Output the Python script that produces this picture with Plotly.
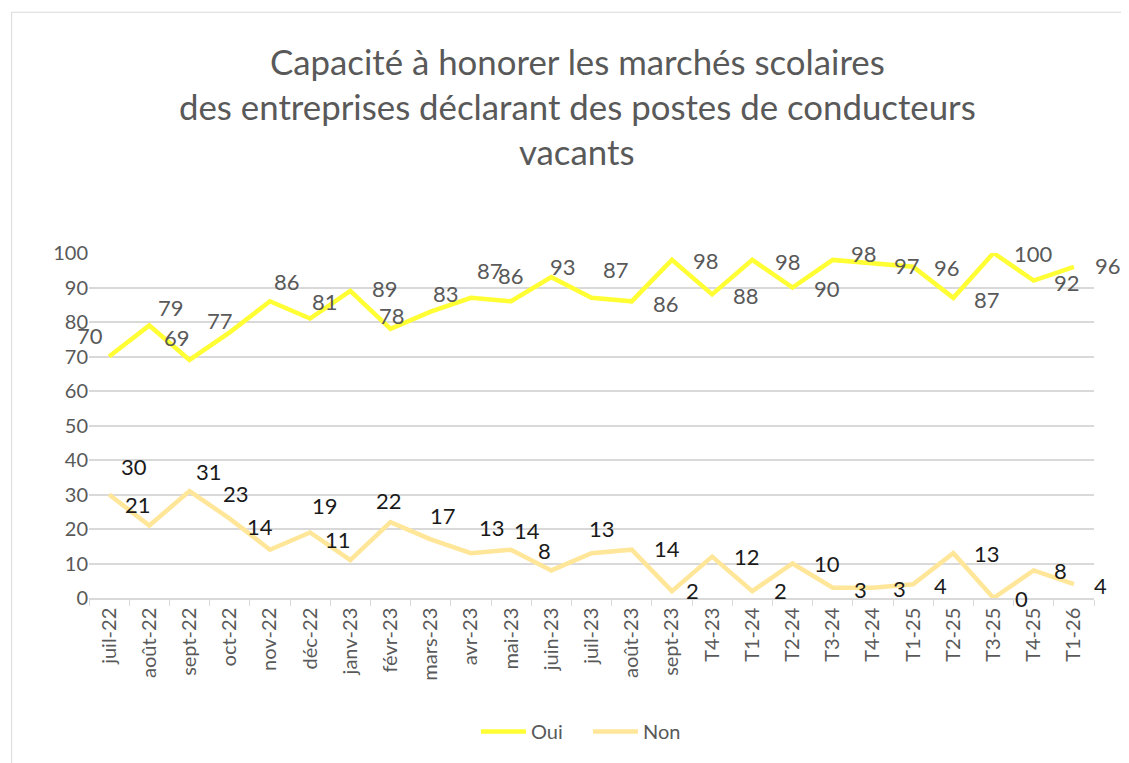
import plotly.graph_objects as go

categories = ["juil-22", "août-22", "sept-22", "oct-22", "nov-22", "déc-22", "janv-23",
              "févr-23", "mars-23", "avr-23", "mai-23", "juin-23", "juil-23", "août-23",
              "sept-23", "T4-23", "T1-24", "T2-24", "T3-24", "T4-24", "T1-25", "T2-25",
              "T3-25", "T4-25", "T1-26"]
oui = [70, 79, 69, 77, 86, 81, 89, 78, 83, 87, 86, 93, 87, 86, 98, 88, 98, 90, 98, 97, 96, 87, 100, 92, 96]
non = [30, 21, 31, 23, 14, 19, 11, 22, 17, 13, 14, 8, 13, 14, 2, 12, 2, 10, 3, 3, 4, 13, 0, 8, 4]
title_lines = ["Capacité à honorer les marchés scolaires",
               "des entreprises déclarant des postes de conducteurs",
               "vacants"]

# label offsets in pixels (dx right, dy down) -- styling only
oui_dx = [-19, 22, -13, -10, 17, 15, 35, 1, 15, 19, 0, 12, 24, 34, 34, 34, 36, 34, 31, 34, 34, 34, 40, 33, 34]
oui_dy = [-20, -17, -21, -11, -19, -16, -1, -12, -17, -26, -25, -10, -27, 3, 2, 2, 3, 2, -5, 3, 2, 3, 1, 3, 0]
non_dx = [25, -11, 19, 6, -10, 15, -12, -2, 12, 21, 16, -7, 10, 35, 21, 35, 28, 34, 28, 27, 27, 34, 28, 27, 27]
non_dy = [-27, -20, -19, -24, -22, -26, -20, -21, -23, -25, -18, -19, -24, 0, 0, 1, 0, 1, 3, 2, 2, 1, 1, 1, 2]

FONT = "Lato"
OFF = 8  # page body margin
W, H = 1129 - OFF, 763 - OFF
# plot area in reference pixels: x 89.3..1093.6, y 252.7..600.5
L = 89.3 - OFF
T = 252.7 - OFF
R = W - (1093.6 - OFF)
B = H - (600.5 - OFF)

fig = go.Figure()
fig.add_trace(go.Scatter(x=categories, y=oui, mode="lines", name="Oui",
                         line=dict(color="#FFFF33", width=4.5)))
fig.add_trace(go.Scatter(x=categories, y=non, mode="lines", name="Non",
                         line=dict(color="#FFE699", width=4.5)))

ann = []
for c, v, dx, dy in zip(categories, oui, oui_dx, oui_dy):
    ann.append(dict(x=c, y=v, xref="x", yref="y", text=str(v), showarrow=False,
                    xanchor="center", yanchor="middle", xshift=dx, yshift=-dy + 1,
                    font=dict(family=FONT, size=22, color="#595959")))
for c, v, dx, dy in zip(categories, non, non_dx, non_dy):
    ann.append(dict(x=c, y=v, xref="x", yref="y", text=str(v), showarrow=False,
                    xanchor="center", yanchor="middle", xshift=dx, yshift=-dy + 1,
                    font=dict(family=FONT, size=22, color="#1a1a1a")))

ph = H - T - B
pw = W - L - R
def py(p):
    return (H - B - (p - OFF)) / ph
def px(p):
    return ((p - OFF) - L) / pw

for i, line in enumerate(title_lines):
    ann.append(dict(x=px(577), y=py(60 + 45 * i), xref="paper", yref="paper", text=line,
                    showarrow=False, xanchor="center", yanchor="middle",
                    font=dict(family=FONT, size=34.8, color="#595959")))

fig.update_layout(
    width=W, height=H,
    margin=dict(l=L, r=R, t=T, b=B, pad=0),
    paper_bgcolor="white", plot_bgcolor="white",
    font=dict(family=FONT, color="#595959"),
    annotations=ann,
    showlegend=True,
    legend=dict(orientation="h", x=px(476), y=py(735), xanchor="left", yanchor="middle",
                font=dict(family=FONT, size=20, color="#595959"), itemwidth=45,
                entrywidth=52, entrywidthmode="pixels"),
    shapes=[dict(type="rect", xref="paper", yref="paper",
                 x0=px(12), x1=px(1145), y0=py(780), y1=py(10),
                 line=dict(color="#D9D9D9", width=1), fillcolor="rgba(0,0,0,0)", layer="below")],
)
fig.update_xaxes(type="category", showgrid=False, showline=True, linecolor="#D9D9D9", linewidth=1.5,
                 ticks="outside", tickson="boundaries", ticklen=6, tickcolor="#D9D9D9",
                 tickangle=-90, tickfont=dict(family=FONT, size=20, color="#595959"),
                 range=[-0.5, len(categories) - 0.5])
fig.update_yaxes(range=[0, 100], dtick=10, showgrid=True, gridcolor="#D9D9D9", gridwidth=1.5,
                 zeroline=False, showline=False, ticks="",
                 tickfont=dict(family=FONT, size=20, color="#595959"))
fig.update_traces(cliponaxis=False)

fig.write_html("out.html")
